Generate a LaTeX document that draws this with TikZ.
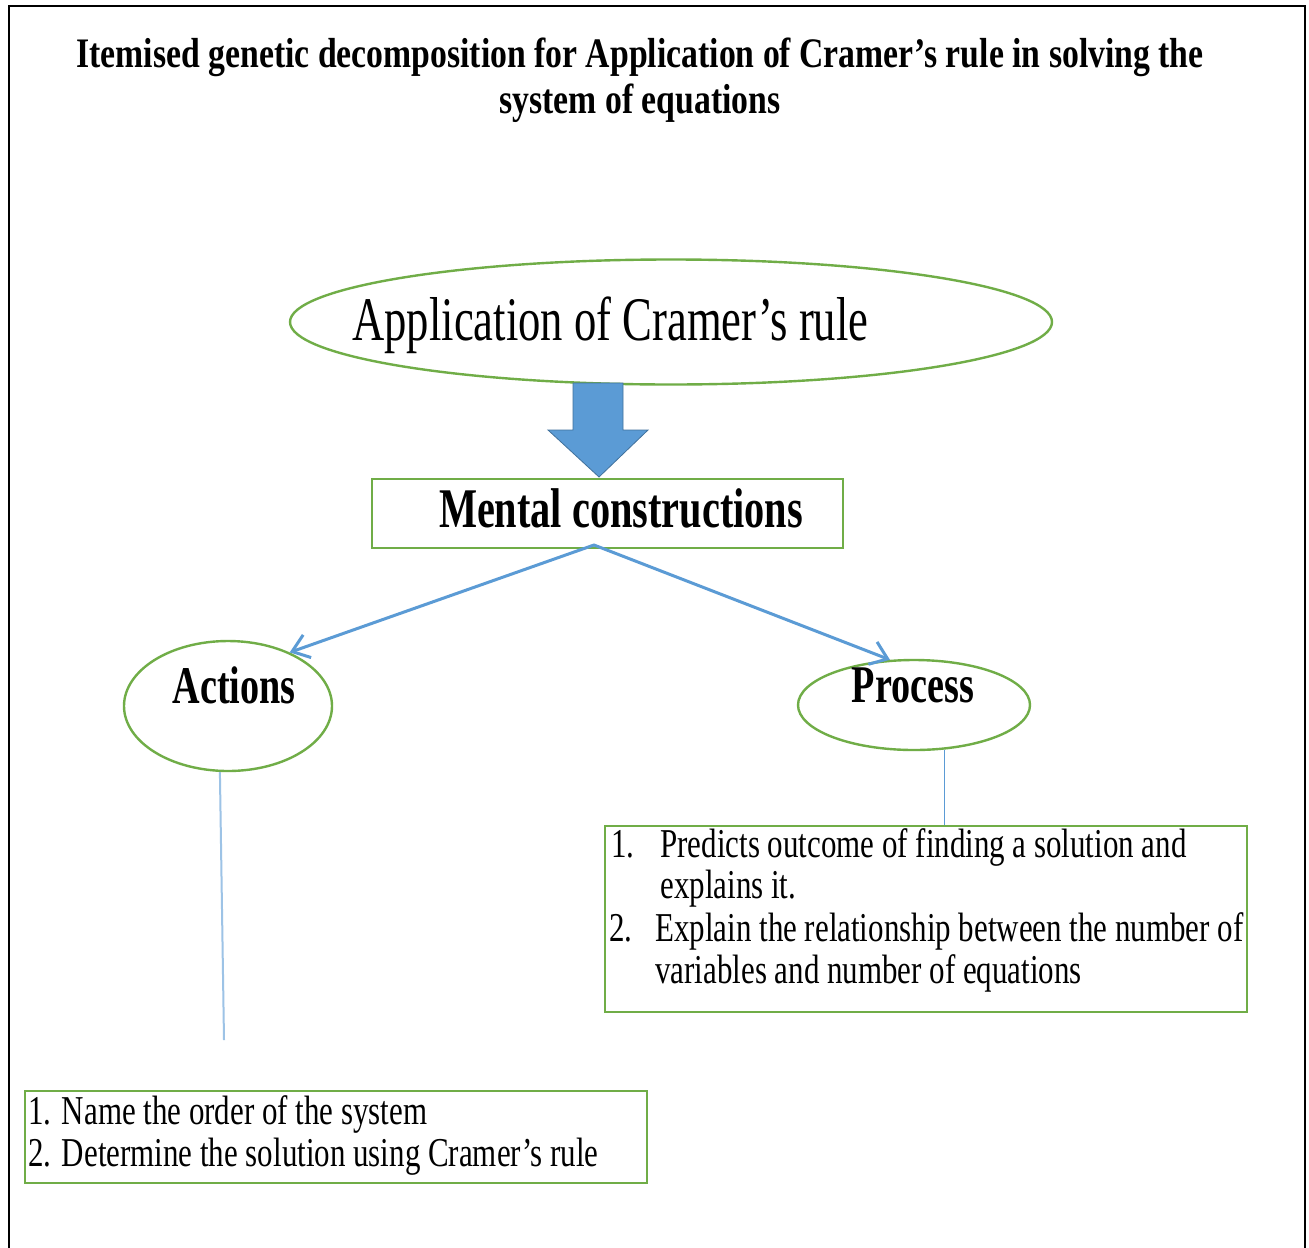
\documentclass[tikz,border=0pt]{standalone}
\usepackage{fontspec}
\setmainfont{Liberation Serif}[FakeStretch=0.72]
\newfontfamily\titlefont{Liberation Serif}[FakeStretch=0.803]
\newfontfamily\itemfont{Liberation Serif}[FakeStretch=0.755]
\usetikzlibrary{shapes.geometric,arrows.meta}

\definecolor{boxgreen}{HTML}{70AD47}
\definecolor{linkblue}{HTML}{5B9BD5}
\definecolor{paleblue}{HTML}{9DC3E6}
\definecolor{arrowedge}{HTML}{41719C}

\tikzset{
  greenoval/.style={draw=boxgreen, line width=1.2pt, ellipse, inner sep=0pt},
  greenbox/.style={draw=boxgreen, line width=1pt, rectangle, inner sep=0pt},
  conn/.style={draw=linkblue, line width=1.5pt, line cap=round,
    -{Straight Barb[length=8pt,width=12pt,line width=1.5pt]}},
  stem/.style={draw=paleblue, line width=1pt},
  thinstem/.style={draw=linkblue, line width=0.5pt},
  lbl/.style={anchor=base, inner sep=0pt},
  item/.style={anchor=base west, inner sep=0pt, font=\itemfont\fontsize{20.5}{24}\selectfont},
}

\begin{document}
\begin{tikzpicture}[x=0.5pt,y=-0.5pt]
  \useasboundingbox (0,0) rectangle (1309,1247);
  \fill[white] (0,0) rectangle (1309,1247);

  % page frame
  \draw[black, line width=1pt] (9,1250) -- (9,6) -- (1305,6) -- (1305,1250);

  % title
  \node[lbl, font=\titlefont\bfseries\fontsize{21}{25}\selectfont] (title1) at (640,68)
    {Itemised genetic decomposition for Application of Cramer’s rule in solving the};
  \node[lbl, font=\titlefont\bfseries\fontsize{21}{25}\selectfont] (title2) at (640,113)
    {system of equations};

  % top concept
  \node[greenoval, minimum width=381pt, minimum height=62.5pt] (app) at (671,322) {};
  \node[lbl, anchor=base west, font=\fontsize{31}{36}\selectfont] (apptext) at (352,340)
    {Application of Cramer’s rule};

  % block arrow down
  \filldraw[fill=linkblue, draw=arrowedge, line width=0.4pt, line join=miter]
    (573,383) -- (623,383) -- (623,430) -- (648,430) -- (599,477)
    -- (548,430) -- (573,430) -- cycle;

  % mental constructions
  \node[greenbox, minimum width=235.5pt, minimum height=34.5pt] (mc) at (607.5,513.5) {};
  \node[lbl, font=\bfseries\fontsize{28}{32}\selectfont] (mctext) at (621,527)
    {Mental constructions};

  % actions and process
  \node[greenoval, minimum width=104pt, minimum height=65pt] (act) at (228,706) {};
  \node[lbl, font=\bfseries\fontsize{26.5}{30}\selectfont] (acttext) at (234,703) {Actions};
  \node[greenoval, minimum width=116pt, minimum height=45pt] (proc) at (914,705) {};
  \node[lbl, font=\bfseries\fontsize{26.5}{30}\selectfont] (proctext) at (913,702) {Process};

  \coordinate (split) at (594,545);
  \draw[conn] (split) -- (act.41);
  \draw[conn] (split) -- (proc.118);

  % process details
  \node[greenbox, minimum width=321pt, minimum height=93pt] (pbox) at (926,919) {};
  \node[item] (p1n) at (611,857) {1.};
  \node[item] (p1a) at (660,857) {Predicts outcome of finding a solution and};
  \node[item] (p1b) at (660,898) {explains it.};
  \node[item] (p2n) at (609,941) {2.};
  \node[item] (p2a) at (655,941) {Explain the relationship between the number of};
  \node[item] (p2b) at (655,983) {variables and number of equations};
  \draw[thinstem] (proc.304) -- (proc.304 |- pbox.north);

  % action details
  \node[greenbox, minimum width=311pt, minimum height=46pt] (abox) at (336,1137) {};
  \node[item] (a1) at (28,1124) {1. Name the order of the system};
  \node[item] (a2) at (28,1166) {2. Determine the solution using Cramer’s rule};
  \coordinate (actend) at (224,1040);
  \draw[stem] (act.263) -- (actend);
\end{tikzpicture}
\end{document}
